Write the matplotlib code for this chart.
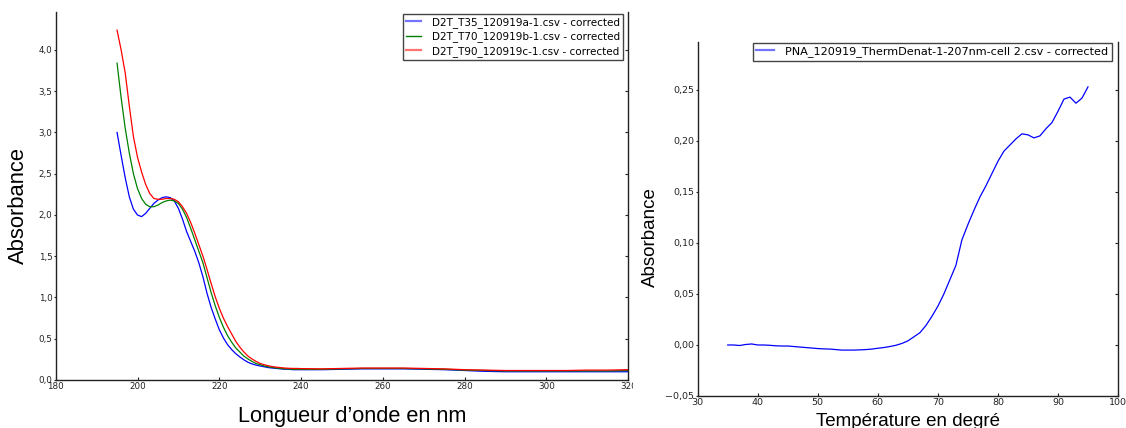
import matplotlib
matplotlib.use("Agg")
import matplotlib.pyplot as plt
from matplotlib.lines import Line2D
from matplotlib.transforms import Bbox

# ---------------- data: left panel (UV spectra) ----------------
wavelength = [195, 196, 197, 198, 199, 200, 201, 202, 203, 204, 205, 206, 207, 208,
              209, 210, 211, 212, 213, 214, 215, 216, 217, 218, 219, 220, 221, 222,
              223, 224, 225, 226, 227, 228, 229, 230, 231, 232, 233, 234, 235, 236,
              237, 238, 239, 240, 245, 250, 255, 260, 265, 270, 275, 280, 285, 290,
              295, 300, 305, 310, 315, 320]

abs_t35 = [3.00, 2.72, 2.45, 2.22, 2.07, 2.00, 1.98, 2.02, 2.08, 2.14, 2.18, 2.21, 2.22, 2.21,
           2.17, 2.08, 1.95, 1.80, 1.68, 1.56, 1.42, 1.25, 1.05, 0.88, 0.74, 0.61, 0.51, 0.43,
           0.37, 0.32, 0.28, 0.245, 0.215, 0.195, 0.18, 0.17, 0.16, 0.15, 0.145, 0.14, 0.135, 0.13,
           0.13, 0.125, 0.125, 0.125, 0.125, 0.13, 0.135, 0.135, 0.135, 0.13, 0.125, 0.115, 0.105, 0.10,
           0.10, 0.10, 0.10, 0.10, 0.10, 0.10]

abs_t70 = [3.84, 3.42, 3.05, 2.75, 2.50, 2.32, 2.20, 2.13, 2.10, 2.10, 2.12, 2.15, 2.17, 2.18,
           2.17, 2.14, 2.07, 1.97, 1.84, 1.70, 1.56, 1.42, 1.24, 1.06, 0.90, 0.76, 0.64, 0.54,
           0.46, 0.39, 0.34, 0.29, 0.255, 0.225, 0.20, 0.185, 0.17, 0.16, 0.152, 0.145, 0.14, 0.135,
           0.133, 0.13, 0.13, 0.13, 0.13, 0.135, 0.14, 0.14, 0.14, 0.135, 0.13, 0.12, 0.115, 0.11,
           0.11, 0.11, 0.11, 0.11, 0.11, 0.115]

abs_t90 = [4.24, 4.00, 3.72, 3.32, 2.95, 2.70, 2.52, 2.37, 2.26, 2.20, 2.19, 2.19, 2.20, 2.20,
           2.19, 2.16, 2.10, 2.02, 1.91, 1.78, 1.64, 1.50, 1.34, 1.17, 1.01, 0.87, 0.75, 0.65,
           0.56, 0.47, 0.40, 0.34, 0.29, 0.255, 0.225, 0.20, 0.185, 0.172, 0.162, 0.155, 0.15, 0.145,
           0.142, 0.14, 0.14, 0.138, 0.135, 0.14, 0.145, 0.145, 0.145, 0.14, 0.135, 0.125, 0.12, 0.115,
           0.115, 0.115, 0.115, 0.12, 0.12, 0.125]

spectra_labels = ["D2T_T35_120919a-1.csv - corrected",
                  "D2T_T70_120919b-1.csv - corrected",
                  "D2T_T90_120919c-1.csv - corrected"]

left_xticks = [180, 200, 220, 240, 260, 280, 300, 320]
left_yticks = [0.0, 0.5, 1.0, 1.5, 2.0, 2.5, 3.0, 3.5, 4.0]
left_yticklabels = ["0,0", "0,5", "1,0", "1,5", "2,0", "2,5", "3,0", "3,5", "4,0"]

# ---------------- data: right panel (thermal denaturation) ----------------
temperature = list(range(35, 96))
abs_denat = [0.000, 0.000, -0.0005, 0.0005, 0.001, 0.000, 0.000, -0.0003, -0.0008, -0.001,
             -0.001, -0.0015, -0.002, -0.0025, -0.003, -0.0035, -0.0038, -0.004, -0.0045, -0.005,
             -0.005, -0.005, -0.0048, -0.0045, -0.004, -0.0032, -0.0025, -0.0015, -0.0003, 0.0015,
             0.004, 0.008, 0.012, 0.019, 0.028, 0.038, 0.050, 0.064, 0.078, 0.103,
             0.118, 0.132, 0.145, 0.156, 0.168, 0.180, 0.190, 0.196, 0.202, 0.207,
             0.206, 0.203, 0.205, 0.212, 0.218, 0.229, 0.241, 0.243, 0.237, 0.242,
             0.253]
denat_label = "PNA_120919_ThermDenat-1-207nm-cell 2.csv - corrected"

right_xticks = [30, 40, 50, 60, 70, 80, 90, 100]
right_yticks = [-0.05, 0.00, 0.05, 0.10, 0.15, 0.20, 0.25]
right_yticklabels = ["\u22120,05", "0,00", "0,05", "0,10", "0,15", "0,20", "0,25"]

# ---------------- figure ----------------
W, H = 1126, 428
fig = plt.figure(figsize=(W / 100, H / 100), dpi=100)

label_font = ["Liberation Sans", "DejaVu Sans"]
spine_col = "#222222"


def px_axes(x0, y0, x1, y1):
    return fig.add_axes([x0 / W, 1 - y1 / H, (x1 - x0) / W, (y1 - y0) / H])


def style_axes(ax, tick_size, yticks):
    ax.spines["top"].set_visible(False)
    for s in ["left", "right", "bottom"]:
        ax.spines[s].set_linewidth(1.0)
        ax.spines[s].set_color(spine_col)
    # left ticks: small, outward
    ax.tick_params(axis="y", which="major", left=True, right=False, direction="out",
                   length=1.8, pad=0.6, width=0.8, labelsize=tick_size,
                   colors=spine_col)
    # bottom ticks: inward
    ax.tick_params(axis="x", which="major", direction="in", length=2.5, pad=1.5,
                   labelsize=tick_size, width=0.8, colors=spine_col, top=False)
    # right ticks: inward, via a twin axes sharing the same y range
    tw = ax.twinx()
    tw.set_ylim(ax.get_ylim())
    tw.set_yticks(yticks)
    tw.tick_params(axis="y", direction="in", length=2.5, width=0.8,
                   labelright=False, colors=spine_col)
    for s in tw.spines.values():
        s.set_visible(False)
    tw.patch.set_visible(False)
    return tw


# ---------------- left panel ----------------
ax1 = px_axes(55.7, 12, 628.3, 380)
ax1.plot(wavelength, abs_t35, color="#0000ff", lw=0.9)
ax1.plot(wavelength, abs_t70, color="#008000", lw=0.9)
ax1.plot(wavelength, abs_t90, color="#ff0000", lw=0.9)
ax1.set_xlim(180, 320)
ax1.set_ylim(0, 4.46)
ax1.set_xticks(left_xticks)
ax1.set_xticklabels([str(v) for v in left_xticks])
ax1.set_yticks(left_yticks)
ax1.set_yticklabels(left_yticklabels)
style_axes(ax1, 6.3, left_yticks)

ax1.set_xlabel("Longueur d\u2019onde en nm", fontsize=15.7, family=label_font)
ax1.xaxis.label.set_va("baseline")
ax1.xaxis.set_label_coords(0.5175, -0.114)
ax1.set_ylabel("Absorbance", fontsize=15.8, family=label_font)
ax1.yaxis.label.set_va("center")
ax1.yaxis.set_label_coords(-0.065, 0.4755)

handles1 = [Line2D([], [], color="#0000ff", lw=1.6, alpha=0.55),
            Line2D([], [], color="#008000", lw=1.0),
            Line2D([], [], color="#ff0000", lw=1.6, alpha=0.55)]
leg1 = ax1.legend(handles1, spectra_labels, loc="upper right",
                  bbox_to_anchor=(0.9907, 0.9946), borderaxespad=0,
                  fontsize=7.5, fancybox=False, framealpha=1, edgecolor="#444444",
                  handlelength=1.5, handletextpad=1.0, labelspacing=0.33,
                  borderpad=0.3)
leg1.get_frame().set_linewidth(1.0)
leg1.set_zorder(5)

# clip the "320" tick label like the cropped original panel
last_tick = ax1.xaxis.get_major_ticks()[-1]
last_tick.label1.set_clip_box(Bbox([[0, 0], [633, H]]))
last_tick.label1.set_clip_on(True)

# ---------------- right panel ----------------
ax2 = px_axes(697.7, 42, 1118, 396)
ax2.plot(temperature, abs_denat, color="#0000ff", lw=0.9)
ax2.set_xlim(30, 100)
ax2.set_ylim(-0.05, 0.297)
ax2.set_xticks(right_xticks)
ax2.set_xticklabels([str(v) for v in right_xticks])
ax2.set_yticks(right_yticks)
ax2.set_yticklabels(right_yticklabels)
style_axes(ax2, 6.8, right_yticks)

ax2.set_xlabel("Température en degré", fontsize=13.5, family=label_font)
ax2.xaxis.label.set_va("baseline")
ax2.xaxis.set_label_coords(0.5, -0.0847)
ax2.set_ylabel("Absorbance", fontsize=13.5, family=label_font)
ax2.yaxis.label.set_va("center")
ax2.yaxis.set_label_coords(-0.1135, 0.449)

handles2 = [Line2D([], [], color="#0000ff", lw=1.6, alpha=0.55)]
leg2 = ax2.legend(handles2, [denat_label], loc="upper right",
                  bbox_to_anchor=(0.9857, 0.9972), borderaxespad=0,
                  fontsize=8.1, fancybox=False, framealpha=1, edgecolor="#444444",
                  handlelength=1.6, handletextpad=1.0, borderpad=0.3)
leg2.get_frame().set_linewidth(1.0)

fig.savefig("out.png", dpi=100)
